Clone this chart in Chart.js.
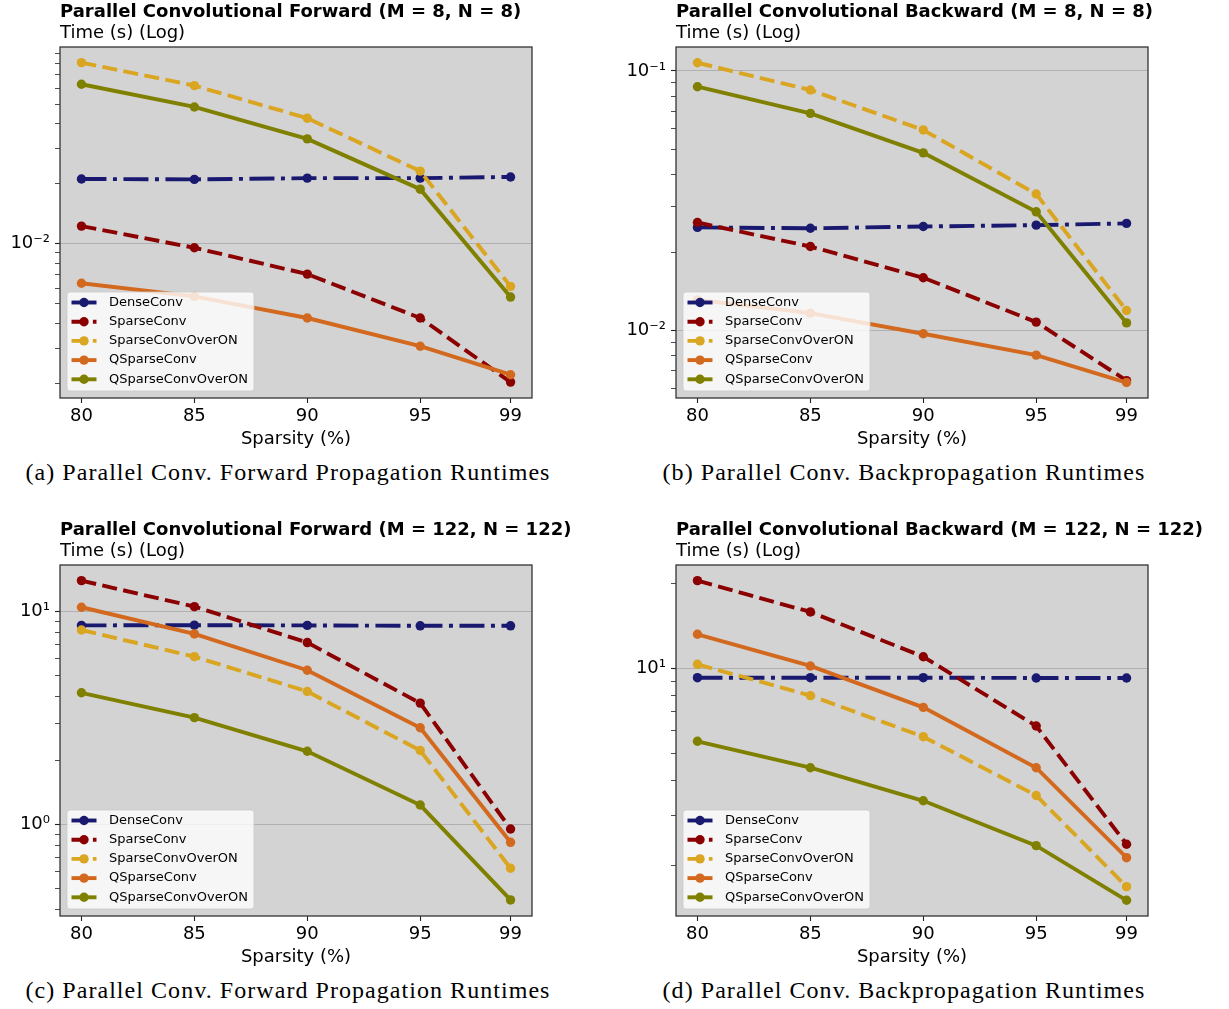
<!DOCTYPE html>
<html>
<head>
<meta charset="utf-8">
<script src="https://cdn.jsdelivr.net/npm/chart.js@4.4.1/dist/chart.umd.min.js"></script>
<style>
  body { margin: 0; background: #fff; width: 1229px; height: 1009px; position: relative; overflow: hidden; }
  .panel { position: absolute; width: 610px; height: 455px; }
  .caption { position: absolute; width: 600px; text-align: center; line-height: 28px;
             font-family: "Liberation Serif", serif; font-size: 24px; letter-spacing: 1.05px; color: #000; }
</style>
</head>
<body>
<div class="panel" style="left:0;top:0"><canvas id="fwd8" width="610" height="455"></canvas></div>
<div class="panel" style="left:616px;top:0"><canvas id="bwd8" width="610" height="455"></canvas></div>
<div class="panel" style="left:0;top:518px"><canvas id="fwd122" width="610" height="455"></canvas></div>
<div class="panel" style="left:616px;top:518px"><canvas id="bwd122" width="610" height="455"></canvas></div>

<div class="caption" style="left:-12px;top:458px">(a) Parallel Conv. Forward Propagation Runtimes</div>
<div class="caption" style="left:604px;top:458px">(b) Parallel Conv. Backpropagation Runtimes</div>
<div class="caption" style="left:-12px;top:976px">(c) Parallel Conv. Forward Propagation Runtimes</div>
<div class="caption" style="left:604px;top:976px">(d) Parallel Conv. Backpropagation Runtimes</div>

<script>
/* ====== Data ====== */
const sparsity = [80, 85, 90, 95, 99];
const seriesNames = ["DenseConv", "SparseConv", "SparseConvOverON", "QSparseConv", "QSparseConvOverON"];

// (a) forward, M = N = 8
const fwd8Dense      = [0.0211, 0.0210, 0.0213, 0.0213, 0.0216];
const fwd8Sparse     = [0.01226, 0.00955, 0.00705, 0.00425, 0.00203];
const fwd8SparseOn   = [0.0807, 0.0619, 0.0425, 0.0231, 0.00612];
const fwd8QSparse    = [0.00634, 0.00545, 0.00425, 0.00307, 0.00221];
const fwd8QSparseOn  = [0.0629, 0.0484, 0.0335, 0.01876, 0.00541];

// (b) backward, M = N = 8
const bwd8Dense      = [0.0250, 0.0248, 0.0252, 0.0255, 0.0259];
const bwd8Sparse     = [0.0261, 0.0211, 0.0160, 0.0108, 0.00643];
const bwd8SparseOn   = [0.1076, 0.0845, 0.0593, 0.0336, 0.01197];
const bwd8QSparse    = [0.01315, 0.01169, 0.00974, 0.00806, 0.00632];
const bwd8QSparseOn  = [0.0870, 0.0687, 0.0484, 0.0287, 0.01072];

// (c) forward, M = N = 122
const fwd122Dense     = [8.62, 8.64, 8.62, 8.58, 8.58];
const fwd122Sparse    = [13.98, 10.56, 7.16, 3.72, 0.954];
const fwd122SparseOn  = [8.20, 6.15, 4.22, 2.23, 0.624];
const fwd122QSparse   = [10.49, 7.86, 5.31, 2.85, 0.826];
const fwd122QSparseOn = [4.16, 3.18, 2.21, 1.236, 0.443];

// (d) backward, M = N = 122
const bwd122Dense     = [9.26, 9.26, 9.26, 9.24, 9.24];
const bwd122Sparse    = [20.45, 15.84, 10.99, 6.24, 2.376];
const bwd122SparseOn  = [10.33, 8.00, 5.72, 3.54, 1.681];
const bwd122QSparse   = [13.20, 10.19, 7.27, 4.44, 2.130];
const bwd122QSparseOn = [5.51, 4.44, 3.39, 2.35, 1.504];

/* ====== Panels ====== */
const panels = [
  { id: "fwd8", title: "Parallel Convolutional Forward (M = 8, N = 8)", yMin: 0.00169, yMax: 0.0966,
    series: [fwd8Dense, fwd8Sparse, fwd8SparseOn, fwd8QSparse, fwd8QSparseOn] },
  { id: "bwd8", title: "Parallel Convolutional Backward (M = 8, N = 8)", yMin: 0.00551, yMax: 0.1237,
    series: [bwd8Dense, bwd8Sparse, bwd8SparseOn, bwd8QSparse, bwd8QSparseOn] },
  { id: "fwd122", title: "Parallel Convolutional Forward (M = 122, N = 122)", yMin: 0.3724, yMax: 16.56,
    series: [fwd122Dense, fwd122Sparse, fwd122SparseOn, fwd122QSparse, fwd122QSparseOn] },
  { id: "bwd122", title: "Parallel Convolutional Backward (M = 122, N = 122)", yMin: 1.323, yMax: 23.24,
    series: [bwd122Dense, bwd122Sparse, bwd122SparseOn, bwd122QSparse, bwd122QSparseOn] }
];

const styles = [
  { color: "#191970", dash: [25, 6.5, 4, 6.5] },
  { color: "#8b0000", dash: [15, 6.4] },
  { color: "#daa520", dash: [15, 6.4] },
  { color: "#d2691e", dash: [] },
  { color: "#808000", dash: [] }
];

const FONT = "DejaVu Sans";
const SUP = { "-": "\u207B", "0": "\u2070", "1": "\u00B9", "2": "\u00B2", "3": "\u00B3",
              "4": "\u2074", "5": "\u2075", "6": "\u2076", "7": "\u2077", "8": "\u2078", "9": "\u2079" };

const isDecade = v => Math.abs(Math.log10(v) - Math.round(Math.log10(v))) < 1e-9;
const powLabel = v => "10" + String(Math.round(Math.log10(v))).split("").map(c => SUP[c]).join("");

/* ====== Plugins ====== */
const plotBg = {
  id: "plotBg",
  beforeDraw(chart) {
    const { ctx, chartArea: a } = chart;
    ctx.save();
    ctx.fillStyle = "#d3d3d3";
    ctx.fillRect(a.left, a.top, a.right - a.left, a.bottom - a.top);
    ctx.restore();
  },
  afterDraw(chart) {
    const { ctx, chartArea: a } = chart;
    ctx.save();
    ctx.strokeStyle = "#333";
    ctx.lineWidth = 1.3;
    ctx.strokeRect(a.left, a.top, a.right - a.left, a.bottom - a.top);
    ctx.restore();
  }
};

const header = {
  id: "header",
  afterDraw(chart, args, opts) {
    const { ctx, chartArea: a } = chart;
    ctx.save();
    ctx.fillStyle = "#000";
    ctx.textAlign = "left";
    ctx.textBaseline = "middle";
    ctx.font = `bold 18px "${FONT}"`;
    ctx.fillText(opts.title, a.left, a.top - 35);
    ctx.font = `18px "${FONT}"`;
    ctx.fillText(opts.subtitle, a.left, a.top - 14);
    ctx.restore();
  }
};

// matplotlib-like legend box in the lower-left corner of the plot
const boxLegend = {
  id: "boxLegend",
  afterDatasetsDraw(chart) {
    const { ctx, chartArea: a } = chart;
    const w = 187, h = 99;
    const x0 = a.left + 7, y0 = a.bottom - 7 - h;
    ctx.save();
    ctx.beginPath();
    ctx.roundRect(x0, y0, w, h, 3);
    ctx.fillStyle = "rgba(255,255,255,0.8)";
    ctx.fill();
    ctx.strokeStyle = "rgba(204,204,204,0.8)";
    ctx.lineWidth = 1;
    ctx.stroke();
    chart.data.datasets.forEach((ds, i) => {
      const y = y0 + 10.5 + i * 19.2;
      ctx.strokeStyle = ds.borderColor;
      ctx.lineWidth = ds.borderWidth;
      ctx.setLineDash(ds.borderDash);
      ctx.beginPath();
      ctx.moveTo(x0 + 4.5, y);
      ctx.lineTo(x0 + 29.5, y);
      ctx.stroke();
      ctx.setLineDash([]);
      ctx.fillStyle = ds.borderColor;
      ctx.beginPath();
      ctx.arc(x0 + 17, y, 4.7, 0, Math.PI * 2);
      ctx.fill();
      ctx.fillStyle = "#000";
      ctx.font = `13px "${FONT}"`;
      ctx.textBaseline = "middle";
      ctx.fillText(ds.label, x0 + 42, y);
    });
    ctx.restore();
  }
};

/* ====== Charts ====== */
panels.forEach(p => {
  new Chart(document.getElementById(p.id), {
    type: "line",
    data: {
      datasets: seriesNames.map((name, i) => ({
        label: name,
        data: sparsity.map((x, j) => ({ x, y: p.series[i][j] })),
        borderColor: styles[i].color,
        backgroundColor: styles[i].color,
        borderDash: styles[i].dash,
        borderWidth: 3.9,
        pointRadius: 4.7,
        pointHoverRadius: 4.7,
        pointBorderWidth: 0,
        pointBackgroundColor: styles[i].color,
        tension: 0,
        fill: false,
        order: seriesNames.length - i
      }))
    },
    options: {
      responsive: false,
      animation: false,
      devicePixelRatio: 1,
      layout: { padding: { top: 47, right: 78, left: 0, bottom: 0 } },
      plugins: {
        legend: { display: false },
        tooltip: { enabled: false },
        header: { title: p.title, subtitle: "Time (s) (Log)" }
      },
      scales: {
        x: {
          type: "linear",
          min: 79.05,
          max: 99.95,
          afterBuildTicks: ax => { ax.ticks = sparsity.map(v => ({ value: v })); },
          afterFit: ax => { ax.height = 57; },
          border: { display: false },
          grid: { drawOnChartArea: false, tickLength: 5, tickColor: "#222", tickWidth: 1.1 },
          ticks: { autoSkip: false, maxRotation: 0, padding: 3, color: "#000",
                   font: { family: FONT, size: 18 }, callback: v => String(v) },
          title: { display: true, text: "Sparsity (%)", color: "#000",
                   font: { family: FONT, size: 18 }, padding: { top: 0, bottom: 5 } }
        },
        y: {
          type: "logarithmic",
          min: p.yMin,
          max: p.yMax,
          afterBuildTicks: ax => {
            const t = [];
            for (let e = Math.floor(Math.log10(ax.min)); e <= Math.ceil(Math.log10(ax.max)); e++) {
              for (let s = 1; s < 10; s++) {
                const v = Number((s * Math.pow(10, e)).toPrecision(3));
                if (v >= ax.min && v <= ax.max) t.push({ value: v, major: s === 1 });
              }
            }
            ax.ticks = t;
          },
          afterFit: ax => { ax.width = 60; },
          border: { display: false },
          grid: {
            color: c => (c.tick && c.tick.major ? "#b0b0b0" : "rgba(0,0,0,0)"),
            lineWidth: 1,
            tickLength: 5,
            tickColor: "#222",
            tickWidth: c => (c.tick && c.tick.major ? 1.1 : 0.8)
          },
          ticks: { autoSkip: false, padding: 5, color: "#000", font: { family: FONT, size: 18 },
                   callback: v => (isDecade(v) ? powLabel(v) : "") }
        }
      }
    },
    plugins: [plotBg, header, boxLegend]
  });
});
</script>
</body>
</html>
